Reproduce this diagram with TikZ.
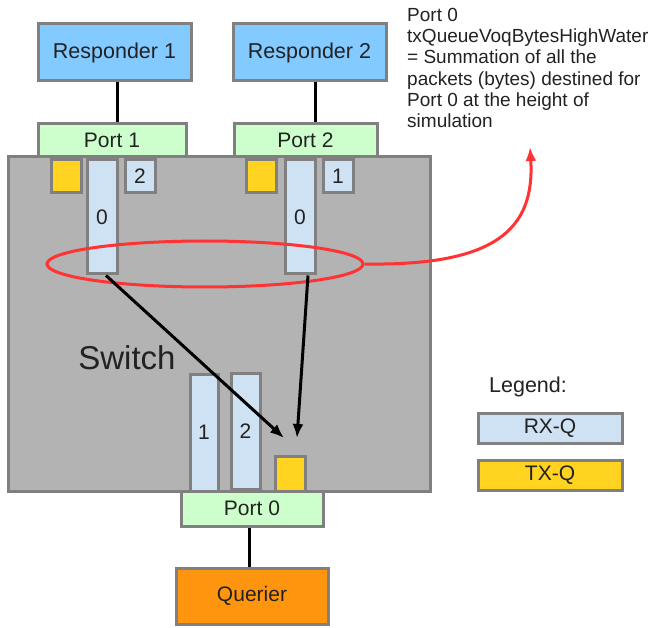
\documentclass[tikz,border=0pt]{standalone}
\usepackage{fontspec}
\setmainfont{Liberation Sans}
\usepackage{xcolor}
\usepackage{tikz}
\usetikzlibrary{arrows.meta,shapes.geometric}
\definecolor{edgegray}{RGB}{128,128,128}
\definecolor{respblue}{RGB}{130,202,255}
\definecolor{portgreen}{RGB}{204,255,204}
\definecolor{switchgray}{RGB}{179,179,179}
\definecolor{rxblue}{RGB}{207,226,243}
\definecolor{txyellow}{RGB}{255,211,32}
\definecolor{qorange}{RGB}{255,149,14}
\definecolor{hwred}{RGB}{255,51,51}
\definecolor{textgray}{RGB}{34,34,34}

\begin{document}
\begin{tikzpicture}[x=1pt,y=-1pt,
  box/.style={draw=edgegray, line width=3pt, rectangle, inner sep=0pt, text=textgray, font=\fontsize{21}{25}\selectfont},
  port/.style={box, fill=portgreen, minimum height=33pt},
  host/.style={box, minimum width=153pt, minimum height=57pt},
  rxq/.style={box, fill=rxblue, minimum width=30pt},
  txq/.style={box, fill=txyellow, minimum width=30pt},
  wire/.style={line width=3pt},
  flow/.style={line width=3pt, -{Latex[length=14pt,width=11pt]}}]
\useasboundingbox (0,0) rectangle (653,628);
% Nodes
\node[box, fill=switchgray, minimum width=422pt, minimum height=334pt] (switch) at (219,324) {};
\node[host, fill=respblue, font=\fontsize{21.5}{25}\selectfont] (resp1) at (114.5,52.5) {Responder 1};
\node[host, fill=respblue, font=\fontsize{21.5}{25}\selectfont] (resp2) at (309.5,52.5) {Responder 2};
\node[port, minimum width=148pt] (port1) at (112,140.5) {Port 1};
\node[port, minimum width=143pt] (port2) at (305.5,140.5) {Port 2};
\node[port, minimum width=142pt, minimum height=35pt] (port0) at (252,508.5) {Port 0};
\node[host, fill=qorange, minimum width=152pt, minimum height=56pt] (querier) at (252,596) {Querier};

% Queues
\node[txq, minimum height=33pt] (tx1) at (66,176.5) {};
\node[rxq, minimum height=114pt] (rx10) at (102,217) {0};
\node[rxq, minimum height=33pt] (rx12) at (140,176.5) {2};
\node[txq, minimum height=33pt] (tx2) at (261.5,176.5) {};
\node[rxq, minimum height=114pt] (rx20) at (300,217) {0};
\node[rxq, minimum height=33pt] (rx21) at (338,176.5) {1};
\node[rxq, minimum width=28pt, minimum height=117pt] (rx01) at (204,432.5) {1};
\node[rxq, minimum width=29pt, minimum height=116pt] (rx02) at (245.5,431) {2};
\node[txq, minimum height=35pt] (tx0) at (290,473.5) {};

% Labels
\node[text=textgray, font=\fontsize{33}{38}\selectfont] (swlabel) at (127,358) {Switch};
\node[text=textgray, font=\fontsize{21.5}{25}\selectfont] (legend) at (528,387) {Legend:};
\node[rxq, minimum width=144pt, minimum height=30pt] (legrx) at (550,428) {RX-Q};
\node[txq, minimum width=144pt, minimum height=30pt] (legtx) at (550,475) {TX-Q};
\node[anchor=north west, inner sep=0pt, align=left, text=textgray, font=\fontsize{19}{21.2}\selectfont] (note) at (407,8)
  {Port 0\\txQueueVoqBytesHighWater\\= Summation of all the\\packets (bytes) destined for\\Port 0 at the height of\\simulation};
\node[ellipse, draw=hwred, line width=3pt, minimum width=316pt, minimum height=46pt] (hw) at (205,264) {};

% Arrows
\coordinate (in1) at (284,438);
\coordinate (in2) at (297,438);
\coordinate (notetip) at (530,147);
\draw[wire] (resp1.south -| 117,0) -- (port1.north -| 117,0);
\draw[wire] (resp2.south -| 315,0) -- (port2.north -| 315,0);
\draw[wire] (port0.south -| 249,0) -- (querier.north -| 249,0);
\draw[flow] ([xshift=4pt]rx10.south) -- (in1);
\draw[flow] ([xshift=8pt]rx20.south) -- (in2);
\draw[hwred, line width=3pt, -{Latex[length=14pt,width=11pt]}] (hw.east) .. controls (495,266) and (535,230) .. (notetip);
\end{tikzpicture}
\end{document}
